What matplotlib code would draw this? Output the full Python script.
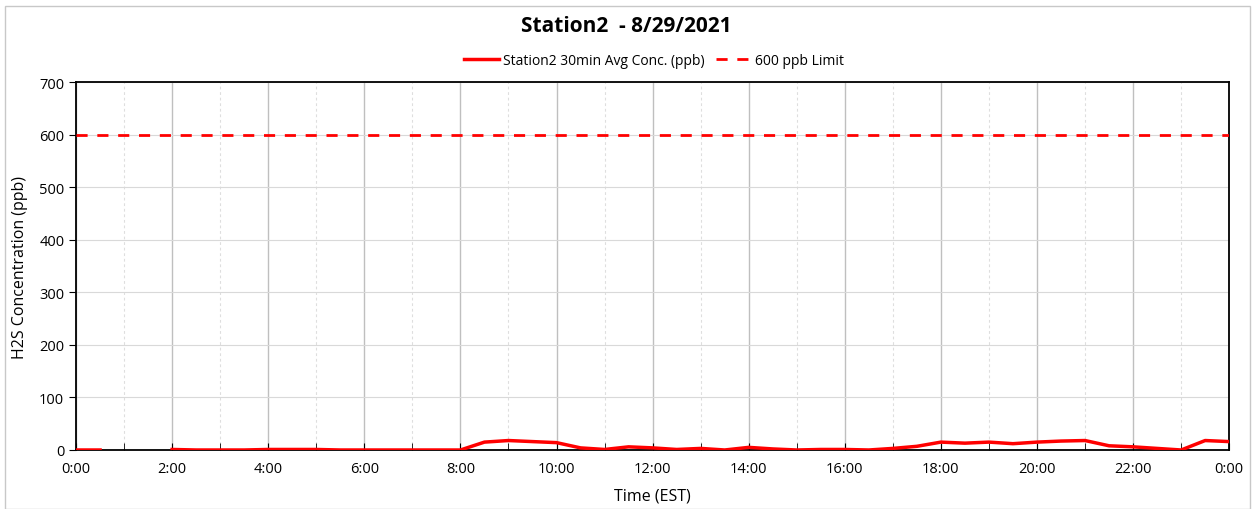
import numpy as np
import matplotlib.pyplot as plt
from matplotlib.patches import Rectangle
from matplotlib.ticker import MultipleLocator, FuncFormatter

# 30-minute averages, hours from midnight (NaN = no data)
hours = np.arange(0, 24.5, 0.5)
conc = [0, 0, np.nan, np.nan, 1, 0, 0, 0, 1, 1, 1, 0, 0, 0, 0, 0, 0,
        15, 18, 16, 14, 4, 1, 6, 4, 1, 3, 0, 5, 2, 0, 1, 1,
        0, 3, 7, 15, 13, 15, 12, 15, 17, 18, 8, 6, 3, 0, 18, 16]
limit = 600

plt.rcParams['font.family'] = ['Open Sans', 'DejaVu Sans']

fig = plt.figure(figsize=(12.53, 5.10), dpi=100)
fig.patches.append(Rectangle((0.004, 0.0), 0.994, 0.986, transform=fig.transFigure,
                             fill=False, edgecolor='#c8c8c8', linewidth=1))
ax = fig.add_axes([0.0607, 0.1157, 0.9203, 0.7213])

ax.plot(hours, conc, color='#ff0000', linewidth=2.5,
        label='Station2 30min Avg Conc. (ppb)', zorder=3)
ax.axhline(limit, color='#ff0000', linewidth=2, linestyle=(0, (4, 3.5)),
           label='600 ppb Limit', zorder=3)

ax.set_xlim(0, 24)
ax.set_ylim(0, 700)
ax.xaxis.set_major_locator(MultipleLocator(2))
ax.xaxis.set_minor_locator(MultipleLocator(1))
ax.yaxis.set_major_locator(MultipleLocator(100))
ax.xaxis.set_major_formatter(FuncFormatter(lambda v, p: '%d:00' % (int(round(v)) % 24)))

ax.grid(axis='x', which='major', color='#bfbfbf', linewidth=1)
ax.grid(axis='x', which='minor', color='#dedede', linewidth=0.8, linestyle=(0, (2.5, 2.5)))
ax.grid(axis='y', which='major', color='#d9d9d9', linewidth=0.8)
ax.set_axisbelow(True)

ax.tick_params(axis='x', which='both', direction='in', length=5, color='black', labelsize=10.5, pad=8)
ax.tick_params(axis='y', direction='out', length=5, labelsize=10.5)
for s in ax.spines.values():
    s.set_linewidth(1.3)
    s.set_color('black')

ax.set_xlabel('Time (EST)', fontsize=11.5, labelpad=8)
ax.set_ylabel('H2S Concentration (ppb)', fontsize=11.5, labelpad=8)
fig.suptitle('Station2  - 8/29/2021', fontsize=15, fontweight='bold', y=0.968)
fig.legend(loc='center', bbox_to_anchor=(0.522, 0.88), ncol=2, frameon=False,
           fontsize=10, handlelength=2.5, columnspacing=0.8, handletextpad=0.3)

fig.savefig('out.png', dpi=100)
